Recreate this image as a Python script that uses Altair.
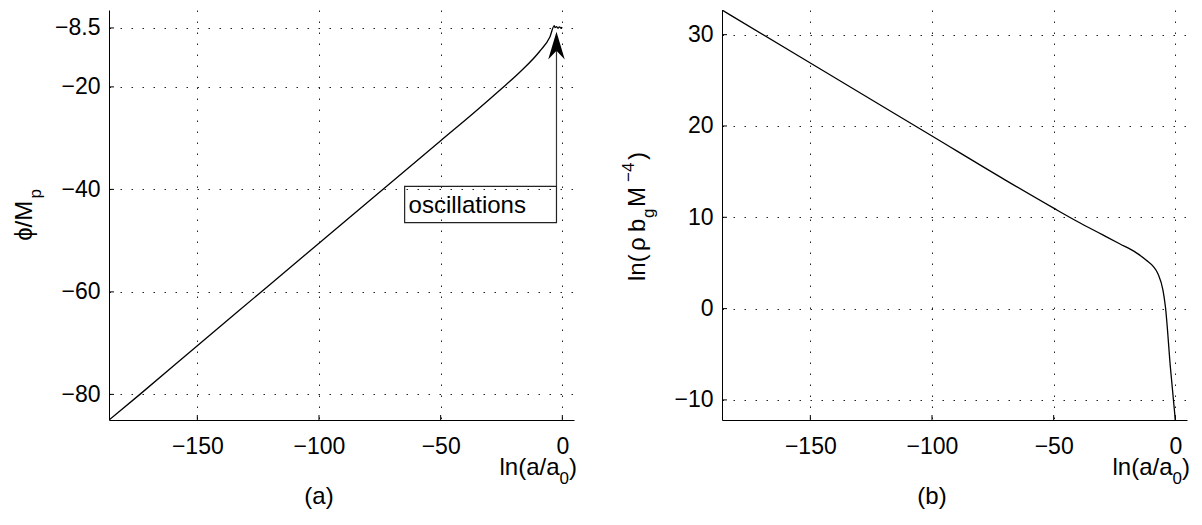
import altair as alt
import pandas as pd

FONT = "Liberation Sans"

# ---------------- data ----------------
# panel (a): phi/M_p against ln(a/a0)
a_lna = [-186.3, -173.6, -150, -125, -100, -75, -50, -35, -25.6, -17.4, -9.2, -5.06,
         -3.3, -3.0, -2.4, -1.8, -1.2, -0.6, 0.0]
a_phi = [-85.0, -80.0, -70.5, -60.5, -50.5, -40.5, -30.5, -24.5, -20.6, -17.1, -13.0, -10.2,
         -8.05, -8.45, -8.25, -8.55, -8.3, -8.5, -8.4]

# panel (b): ln(rho b_g M^-4) against ln(a/a0)
b_lna = [-186.3, -150, -100, -70, -50, -39.3, -30, -22.9, -16, -11.9, -9, -7.1, -5.06,
         -4.07, -2.0, 0.0]
b_rho = [32.7, 26.9, 18.9, 14.1, 11.0, 9.4, 8.1, 7.1, 6.1, 5.3, 4.6, 3.8, 2.0,
         0.2, -6.5, -12.2]

x_ticks = [-150, -100, -50, 0]
a_y_ticks = [-80, -60, -40, -20, -8.5]
b_y_ticks = [-10, 0, 10, 20, 30]

x_domain = [-186.3, 4.8]
a_y_domain = [-85, -5]
b_y_domain = [-12.2, 32.7]

# annotation in panel (a), data units
note_text = ["oscillations"]
note_box_x = [-64.8, -2.4]
note_box_y = [-46.5, -39.4]
note_text_xy = [-63.2, -43.2]
arrow_x = -2.4
arrow_y = [-39.4, -13.0]
arrow_head_y = -11.95

captions = ["(a)", "(b)"]
caption_x = -100

W, H = 465, 410
TICK_FS = 23
TITLE_FS = 24
SUB_FS = 17

# approximate advance widths (em) of Liberation Sans, for chaining title pieces
EM = {"l": .222, "n": .556, "(": .333, ")": .333, "a": .556, "/": .278, "0": .556,
      "ρ": .578, " ": .278, "b": .556, "g": .556, "M": .833, "−": .584, "4": .556,
      "φ": .65, "ϕ": .65, "p": .556}


def text_w(s, size):
    return sum(EM.get(c, .556) for c in s) * size


MINUS_EXPR = "replace(format(datum.value, '~g'), '-', '\u2212')"


def x_axis():
    return alt.Axis(values=x_ticks, title=None, grid=True, ticks=False, tickSize=0,
                    domainColor="black", domainWidth=1, labelFont=FONT, labelFontSize=TICK_FS,
                    labelColor="black", labelPadding=15, labelFlush=False, labelOverlap=False,
                    gridColor="#222", gridDash=[1.5, 9.5], gridWidth=1, labelExpr=MINUS_EXPR)


def y_axis(vals):
    return alt.Axis(values=vals, title=None, grid=True, ticks=False, tickSize=0,
                    domainColor="black", domainWidth=1, labelFont=FONT, labelFontSize=TICK_FS,
                    labelColor="black", labelPadding=9, labelFlush=False, labelOverlap=False,
                    gridColor="#222", gridDash=[1.5, 9.5], gridWidth=1, labelExpr=MINUS_EXPR)


def piece(label, x, y, size, angle=0, align="left", baseline="alphabetic"):
    df = pd.DataFrame({"label": [label]})
    return alt.Chart(df).mark_text(font=FONT, fontSize=size, angle=angle, align=align,
                                   baseline=baseline, color="black").encode(
        x=alt.value(x), y=alt.value(y), text="label:N")


def rotated_chain(pieces, base_x, center_y):
    # pieces: (text, size, baseline shift to the right)
    total = sum(text_w(t, s) for t, s, _ in pieces)
    y = center_y + total / 2
    out = []
    for t, s, d in pieces:
        out.append(piece(t, base_x + d, y, s, angle=270, align="left"))
        y -= text_w(t, s)
    return out


def rotated_anchored(pieces, base_x):
    # pieces: (text, size, baseline shift, start y)
    return [piece(t, base_x + d, y0, s, angle=270, align="left") for t, s, d, y0 in pieces]


def x_title(right_x, base_y):
    pieces = [("ln(a/a", TITLE_FS, 0), ("0", SUB_FS, 9), (")", TITLE_FS, 0)]
    total = sum(text_w(t, s) for t, s, _ in pieces)
    x = right_x - total
    out = []
    for t, s, d in pieces:
        out.append(piece(t, x, base_y + d, s))
        x += text_w(t, s)
    return out


def panel(xs, ys, y_dom, y_ticks, extra, title_layers, caption):
    xscale = alt.Scale(domain=x_domain, nice=False, zero=False)
    yscale = alt.Scale(domain=y_dom, nice=False, zero=False)
    xa = x_axis()
    ya = y_axis(y_ticks)

    df = pd.DataFrame({"x": xs, "y": ys})
    line = alt.Chart(df).mark_line(color="black", strokeWidth=1.3, interpolate="monotone",
                                   clip=True).encode(
        x=alt.X("x:Q", scale=xscale, axis=xa),
        y=alt.Y("y:Q", scale=yscale, axis=ya))

    dx = pd.DataFrame({"x": x_ticks})
    dy = pd.DataFrame({"y": y_ticks})
    tick_x = alt.Chart(dx).mark_rule(color="black", strokeWidth=1).encode(
        x=alt.X("x:Q", scale=xscale, axis=xa), y=alt.value(H), y2=alt.value(H - 5))
    tick_y = alt.Chart(dy).mark_rule(color="black", strokeWidth=1).encode(
        y=alt.Y("y:Q", scale=yscale, axis=ya), x=alt.value(0), x2=alt.value(5))

    cap_df = pd.DataFrame({"t": [caption], "x": [caption_x]})
    cap = alt.Chart(cap_df).mark_text(font=FONT, fontSize=TITLE_FS, align="center",
                                      baseline="middle", color="black").encode(
        x=alt.X("x:Q", scale=xscale, axis=xa), y=alt.value(487), text="t:N")

    layers = [line, tick_x, tick_y]
    layers += [e(xscale, yscale, xa, ya) for e in extra]
    layers += title_layers
    layers += x_title(W + 3, 465)
    layers.append(cap)
    return alt.layer(*layers).properties(width=W, height=H)


def note_layers():
    def box(xs, ys, xa, ya):
        df = pd.DataFrame({"x": [note_box_x[0]], "x2": [note_box_x[1]],
                           "y": [note_box_y[0]], "y2": [note_box_y[1]]})
        return alt.Chart(df).mark_rect(fill="white", fillOpacity=0, stroke="#222",
                                       strokeWidth=1.2).encode(
            x=alt.X("x:Q", scale=xs, axis=xa), x2="x2:Q",
            y=alt.Y("y:Q", scale=ys, axis=ya), y2="y2:Q")

    def label(xs, ys, xa, ya):
        df = pd.DataFrame({"t": note_text, "x": [note_text_xy[0]], "y": [note_text_xy[1]]})
        return alt.Chart(df).mark_text(font=FONT, fontSize=TITLE_FS, align="left",
                                       baseline="middle", color="black").encode(
            x=alt.X("x:Q", scale=xs, axis=xa), y=alt.Y("y:Q", scale=ys, axis=ya),
            text="t:N")

    def shaft(xs, ys, xa, ya):
        df = pd.DataFrame({"x": [arrow_x], "y": [arrow_y[0]], "y2": [arrow_y[1]]})
        return alt.Chart(df).mark_rule(color="#333", strokeWidth=1.2).encode(
            x=alt.X("x:Q", scale=xs, axis=xa), y=alt.Y("y:Q", scale=ys, axis=ya),
            y2="y2:Q")

    def head(xs, ys, xa, ya):
        df = pd.DataFrame({"x": [arrow_x], "y": [arrow_head_y]})
        return alt.Chart(df).mark_point(shape="M0,-1L0.6,1L0,0.38L-0.6,1Z", filled=True,
                                        size=760, color="black", opacity=1).encode(
            x=alt.X("x:Q", scale=xs, axis=xa), y=alt.Y("y:Q", scale=ys, axis=ya))

    return [box, label, shaft, head]


left_title = rotated_chain([("ϕ/M", TITLE_FS, 0), ("p", SUB_FS, 9)], -77, 205)
right_title = rotated_anchored([("ln(", TITLE_FS, 0, 271), ("ρ", TITLE_FS, 0, 241),
                                ("b", TITLE_FS, 0, 222), ("g", SUB_FS, 9, 208),
                                ("M", TITLE_FS, 0, 197), ("−4", SUB_FS, -11, 172),
                                (")", TITLE_FS, 0, 150)], -77)

left = panel(a_lna, a_phi, a_y_domain, a_y_ticks, note_layers(), left_title, captions[0])
right = panel(b_lna, b_rho, b_y_domain, b_y_ticks, [], right_title, captions[1])

chart = alt.hconcat(left, right, spacing=148, bounds="flush").properties(
    padding={"left": 5, "top": 2, "right": 0, "bottom": 5}
).configure_view(stroke=None)

chart.save("out.html", embed_options={"renderer": "svg", "actions": False})
